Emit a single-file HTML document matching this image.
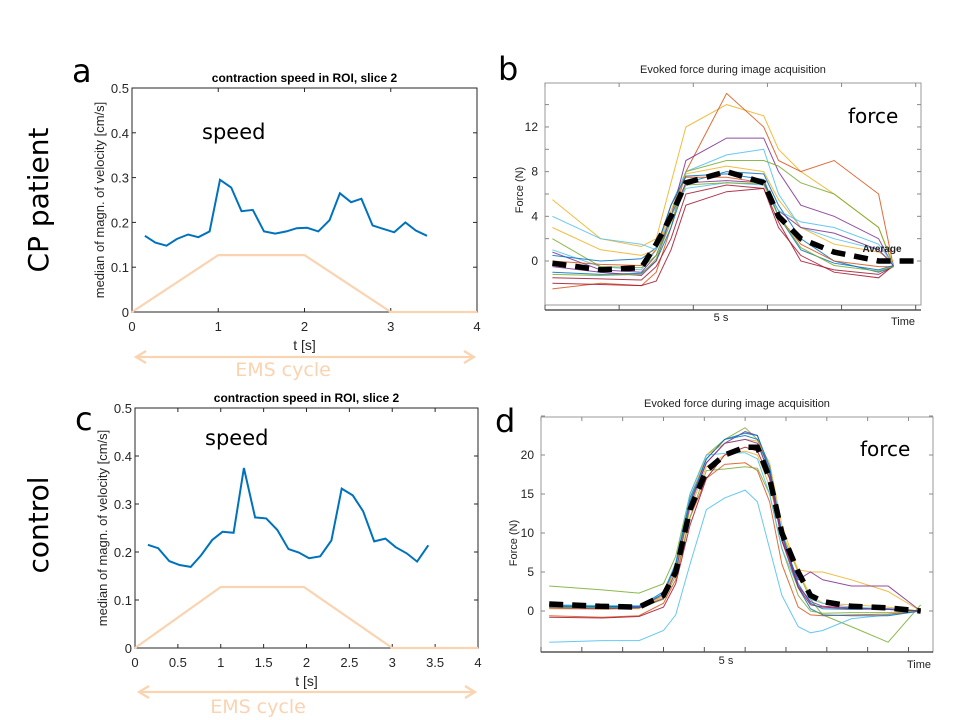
<!DOCTYPE html>
<html><head><meta charset="utf-8"><style>
body{margin:0;background:#fff;}
svg{display:block;font-family:"Liberation Sans",sans-serif;}
</style></head><body>
<svg id="fig" width="960" height="720" viewBox="0 0 960 720">
<g id="g"></g>
</svg>
<script>
// ---- panel a / c speed data ----
const speedTimes=[0.15,0.27,0.40,0.52,0.65,0.77,0.90,1.02,1.15,1.27,1.40,1.53,1.66,1.79,1.91,2.03,2.16,2.29,2.41,2.54,2.66,2.79,2.92,3.04,3.17,3.29,3.42];
const speedA=[0.17,0.155,0.148,0.163,0.173,0.167,0.18,0.295,0.278,0.225,0.228,0.18,0.175,0.18,0.187,0.188,0.18,0.205,0.265,0.245,0.253,0.193,0.185,0.178,0.2,0.182,0.17];
const speedC=[0.215,0.208,0.181,0.173,0.169,0.193,0.225,0.242,0.24,0.375,0.272,0.27,0.246,0.206,0.199,0.187,0.191,0.224,0.332,0.318,0.285,0.222,0.228,0.21,0.197,0.18,0.214];
const emsTimesA=[0,1,2,3,4];
const emsTimesC=[0,1,1.97,3,4];
const emsVals=[0,0.127,0.127,0,0];
const xTicksA=[0,1,2,3,4];
const xTicksC=[0,0.5,1,1.5,2,2.5,3,3.5,4];
const yTicksSpeed=[0,0.1,0.2,0.3,0.4,0.5];
// ---- panel b force data ----
const avgBTimes=[0.2,1.5,2.6,3.0,3.4,3.8,4.9,5.9,6.3,6.9,7.8,9.0,9.4,10];
const avgBVals=[-0.2,-0.8,-0.6,1.5,4,7,8,7,4,2,0.8,0,0,0];
const traceBTimes=[0.2,1.5,2.6,3.0,3.4,3.8,4.9,5.9,6.3,6.9,7.8,9.0,9.4];
const tracesB=[
[5.5,2,1.3,2,7,12,14,13,10,8,6,3,-0.3],
[-2.5,-2,-2.2,-1,3,8,15,12,9,8,9,6,-0.5],
[1,-0.5,-0.8,1,5,8,9.5,10,6,3,2,1,-0.3],
[0.8,-0.8,-1,0.5,4,9,11,11,8,5,4,2,-0.5],
[-1,-1.2,-1.1,0,3,7,8,7.8,5,2,0,-1,-0.5],
[2,-0.5,-0.6,0.5,4,8,9,9,8.5,7,6,3,-0.5],
[-1.5,-1.6,-1.7,-0.5,2,6,6.8,6.5,3,0.5,-1,-1.5,-0.4],
[0,-0.3,-0.4,1,5,7.5,7.5,7,4,1.5,0,-0.5,-0.5],
[3,1,0.5,1,4.5,7.8,8.5,8,5.5,3,1.5,0.8,0],
[-2,-2.1,-2.2,-1.8,1,5,6.2,6.5,3.5,0,-0.8,-1.2,-0.5],
[-0.5,-1,-1.3,0,4,7,7.2,7,4.5,3,2.5,1,-0.4],
[0.5,0,0.2,1.2,5,7.6,7.8,7.3,4,1,-0.2,-0.8,-0.4],
[4,2,1.5,1,4,6.5,7,6.8,4.5,3.5,3,1.5,-0.3],
[-1.2,-1.3,-1.2,0.2,3.5,6.8,7,6.9,4,1.2,-0.4,-0.9,-0.5]];
const yTicksB=[0,4,8,12];
// ---- panel d force data ----
const avgDTimes=[0.2,1.45,2.4,3.0,3.3,3.65,4.05,4.5,5.0,5.3,5.6,5.9,6.3,6.6,6.9,7.6,8.5,9.3];
const avgDVals=[0.9,0.6,0.5,2,5,13,18,20,21,21,17,10,5,2,1.2,0.6,0.4,0];
const traceDTimes=[0.2,1.5,2.4,3.0,3.3,3.65,4.05,4.5,5.0,5.3,5.6,5.9,6.3,6.6,6.9,7.6,8.5,9.3];
const tracesD=[
[3.2,2.7,2.3,3.5,7,15,20,22,23.5,22,17,10,5,1.5,-0.5,-2,-4,0.8],
[-4,-3.8,-3.8,-2.5,-0.5,6,13,14.5,15.5,14,8,2,-2,-2.8,-2.5,-1,-0.5,0],
[0.5,0.4,0.4,1.8,5,13,18.5,20,20.5,20,16,10,5.3,5,5,4,2.5,0],
[0.7,0.6,0.6,2,5.5,14,19,21.5,23,22.5,18,9,4,5,4,3.2,3.2,0],
[-0.6,-0.8,-0.6,1,4,12,17,18.8,19,18,14,6,0.5,-0.5,-0.6,-0.5,-0.4,0],
[0.7,0.6,0.5,2.5,6,14.5,19.5,22,22.5,22,18,10,3,0.3,-0.5,-0.6,-0.6,0],
[0.5,0.4,0.4,1.5,4.5,12,18,18.2,18.5,18.3,15,8,2,0,-0.3,-0.2,-0.2,0],
[0.3,0.2,0.3,2,5.5,14,20,21.5,22,21.8,19,11,5,2,1,0.8,0.5,0],
[0.8,0.7,0.7,2.2,6.2,15,20,20.2,20.3,19.5,15,8,3,1.5,1,0.5,0.3,0],
[-0.8,-0.9,-0.7,0.5,3.5,11,17,20,21,20.5,17,9,3,0.8,0.5,0.3,0.2,0],
[0.6,0.5,0.5,2.2,6,14,19.5,22,22.8,22.5,18.5,10,3.5,1,0.3,0.2,0.3,0],
[0.4,0.3,0.4,1.6,5,13.5,19,21.5,22,21.5,17.5,9.5,3.2,1.2,0.6,0.4,0.2,0]];
const yTicksD=[0,5,10,15,20];
const colorsB=["#EDB120","#D95319","#4DBEEE","#7E2F8E","#0072BD","#77AC30","#A2142F","#D95319","#EDB120","#A2142F","#7E2F8E","#0072BD","#4DBEEE","#77AC30"];
const colorsD=["#77AC30","#4DBEEE","#EDB120","#7E2F8E","#D95319","#0072BD","#77AC30","#EDB120","#4DBEEE","#A2142F","#0072BD","#7E2F8E"];

const NS="http://www.w3.org/2000/svg";
const G=document.getElementById('g');
function mk(tag,attrs,parent){const e=document.createElementNS(NS,tag);for(const k in attrs)e.setAttribute(k,attrs[k]);(parent||G).appendChild(e);return e;}
function txt(s,x,y,size,attrs){const e=mk('text',Object.assign({x:x,y:y,'font-size':size,fill:'#000'},attrs||{}));e.textContent=s;return e;}
function poly(xs,ys,sx,sy){return xs.map((t,i)=>sx(t).toFixed(1)+','+sy(ys[i]).toFixed(1)).join(' ');}

// ===== speed panel =====
function speedPanel(letter,box,xTicks,vals,emsT,title,arrowY,emsY,lblName){
  const sx=t=>box.x0+t*(box.x1-box.x0)/4;
  const sy=v=>box.y1-v*(box.y1-box.y0)/0.5;
  let e;
  e=mk('rect',{x:box.x0,y:box.y0,width:box.x1-box.x0,height:box.y1-box.y0,fill:'none',stroke:'#262626','stroke-width':1});
  
  
  xTicks.forEach(t=>{
    mk('line',{x1:sx(t),x2:sx(t),y1:box.y1,y2:box.y1-4,stroke:'#262626'});
    mk('line',{x1:sx(t),x2:sx(t),y1:box.y0,y2:box.y0+4,stroke:'#262626'});
    e=txt(String(t),sx(t),box.y1+19,13,{'text-anchor':'middle',fill:'#262626'});
    
    
  });
  yTicksSpeed.forEach(v=>{
    mk('line',{x1:box.x0,x2:box.x0+4,y1:sy(v),y2:sy(v),stroke:'#262626'});
    mk('line',{x1:box.x1,x2:box.x1-4,y1:sy(v),y2:sy(v),stroke:'#262626'});
    e=txt(String(v),box.x0-3,sy(v)+5,13,{'text-anchor':'end',fill:'#262626'});
    
    
  });
  e=mk('polyline',{points:poly(emsT,emsVals,sx,sy),fill:'none',stroke:'#FAD3B0','stroke-width':2.2});
  
  
  e=mk('polyline',{points:poly(speedTimes,vals,sx,sy),fill:'none',stroke:'#0072BD','stroke-width':2});
  
  
  e=txt(title,(box.x0+box.x1)/2,box.y0-6,12,{'text-anchor':'middle','font-weight':'bold'});
  
  
  e=txt('t [s]',(box.x0+box.x1)/2,box.y1+38,14,{'text-anchor':'middle',fill:'#262626'});
  
  
  const ly=(box.y0+box.y1)/2;
  e=txt('median of magn. of velocity [cm/s]',box.x0-28,ly,13,{'text-anchor':'middle',transform:'rotate(-90 '+(box.x0-28)+' '+ly+')',fill:'#262626'});
  
  
  e=txt('speed',box.x0+70,box.y0+(lblName==='panel-a'?51:37),21,{'font-family':'"DejaVu Sans",sans-serif'});
  
  
  e=txt(letter,box.x0-60,box.y0+(lblName==='panel-a'?-6:22),32,{'font-family':'"DejaVu Sans",sans-serif'});
  
  
  const ax0=box.x0+4,ax1=box.x1-3;
  e=mk('g',{stroke:'#FAD3B0','stroke-width':2.2,fill:'none'});
  
  
  mk('line',{x1:ax0,x2:ax1,y1:arrowY,y2:arrowY},e);
  mk('polyline',{points:(ax0+10)+','+(arrowY-6)+' '+ax0+','+arrowY+' '+(ax0+10)+','+(arrowY+6)},e);
  mk('polyline',{points:(ax1-10)+','+(arrowY-6)+' '+ax1+','+arrowY+' '+(ax1-10)+','+(arrowY+6)},e);
  e=txt('EMS cycle',emsY[0],emsY[1],19,{'text-anchor':'middle',fill:'#FAD3B0','font-family':'"DejaVu Sans",sans-serif'});
  
  
}
speedPanel('a',{x0:132,x1:477,y0:88,y1:312},xTicksA,speedA,emsTimesA,'contraction speed in ROI, slice 2',357,[283,376],'panel-a');
speedPanel('c',{x0:135,x1:478,y0:408,y1:648},xTicksC,speedC,emsTimesC,'contraction speed in ROI, slice 2',692,[258,713],'panel-c');

// ===== force panels =====
function forcePanel(letter,box,sx,sy,yTicks,minorStep,tickStep,nT,traces,cols,tT,avgT,avgV,title,lbl,fives,timeLbl,forceLbl,letterPos,avgLbl){
  let e;
  e=mk('rect',{x:box.x0,y:box.y0,width:box.x1-box.x0,height:box.y1-box.y0,fill:'none',stroke:'#999','stroke-width':1});
  
  
  e=mk('line',{x1:box.x0,x2:box.x1,y1:box.axY,y2:box.axY,stroke:'#333','stroke-width':1.3});
  
  
  for(let i=0;i<=nT;i++){
    const x=sx(i*tickStep);
    mk('line',{x1:x,x2:x,y1:box.axY,y2:box.axY-5,stroke:'#555'});
    mk('line',{x1:x,x2:x,y1:box.y0,y2:box.y0+4,stroke:'#888'});
  }
  for(let v=yTicks[0];v<=yTicks[yTicks.length-1]+minorStep;v+=minorStep){
    mk('line',{x1:box.x0,x2:box.x0+4,y1:sy(v),y2:sy(v),stroke:'#888'});
    mk('line',{x1:box.x1,x2:box.x1-4,y1:sy(v),y2:sy(v),stroke:'#888'});
  }
  yTicks.forEach(v=>{
    e=txt(String(v),box.x0-7,sy(v)+4,12,{'text-anchor':'end',fill:'#222'});
    
    
  });
  traces.forEach((tr,i)=>{
    e=mk('polyline',{points:poly(tT,tr,sx,sy),fill:'none',stroke:cols[i%cols.length],'stroke-width':1,opacity:0.85});
    
    
  });
  e=mk('polyline',{points:poly(avgT,avgV,sx,sy),fill:'none',stroke:'#000','stroke-width':5.5,'stroke-dasharray':'14 9'});
  
  
  e=txt(title,(box.x0+box.x1)/2,box.y0-10,11,{'text-anchor':'middle',fill:'#222'});
  
  
  e=txt('5 s',fives[0],fives[1],11,{'text-anchor':'middle',fill:'#222'});
  
  
  e=txt('Time',timeLbl[0],timeLbl[1],11,{'text-anchor':'middle',fill:'#222'});
  
  
  e=txt('Force (N)',forceLbl[0],forceLbl[1],11,{'text-anchor':'middle',fill:'#222',transform:'rotate(-90 '+forceLbl[0]+' '+forceLbl[1]+')'});
  
  
  e=txt('force',box.x1-73,letter==='b'?123:456,20,{'font-family':'"DejaVu Sans",sans-serif'});
  
  
  e=txt(letter,letterPos[0],letterPos[1],32,{'font-family':'"DejaVu Sans",sans-serif'});
  
  
  if(avgLbl){
    e=txt('Average',avgLbl[0],avgLbl[1],10,{'font-weight':'bold','text-anchor':'middle',fill:'#222'});
    
    
  }
}
const xb=t=>545+t*37.07, yb=v=>261-v*11.17;
forcePanel('b',{x0:545,x1:921,y0:83,y1:305,axY:310},xb,yb,yTicksB,2,2,5,tracesB,colorsB,traceBTimes,avgBTimes,avgBVals,'Evoked force during image acquisition','panel-b',[721,321],[903,325],[523,190],[498,80],[882,252]);
const xd=t=>541+t*40.83, yd=v=>611-v*7.8;
forcePanel('d',{x0:541,x1:933,y0:417,y1:652,axY:652},xd,yd,yTicksD,5,1,9,tracesD,colorsD,traceDTimes,avgDTimes,avgDVals,'Evoked force during image acquisition','panel-d',[726,664],[919,668],[517,543],[495,432],null);

let e=txt('CP patient',48,200,28,{'text-anchor':'middle',transform:'rotate(-90 48 200)','font-family':'"DejaVu Sans",sans-serif'});


e=txt('control',48,525,28,{'text-anchor':'middle',transform:'rotate(-90 48 525)','font-family':'"DejaVu Sans",sans-serif'});


</script>
</body></html>
